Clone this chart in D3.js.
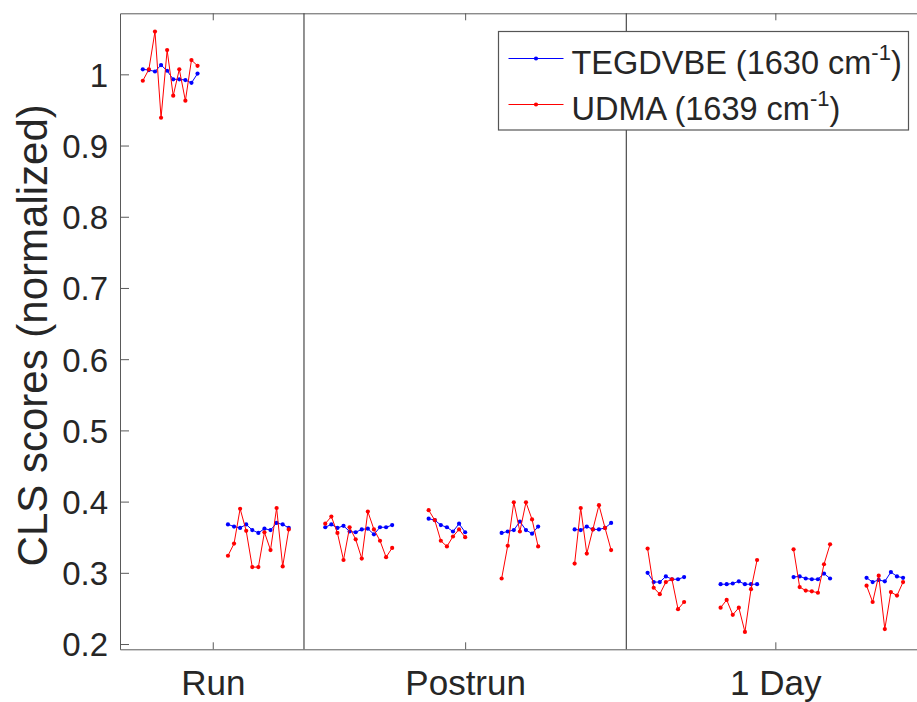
<!DOCTYPE html>
<html>
<head>
<meta charset="utf-8">
<script src="https://cdn.jsdelivr.net/npm/d3@7"></script>
<style>
  body { margin: 0; background: #fff; }
  text { font-family: "Liberation Sans", Arial, Helvetica, sans-serif; fill: #262626; }
</style>
</head>
<body>
<script>
const width = 917;
const height = 702;

const blueColor = "#0000ff"
const redColor = "#ff0000"

// x axis categories and where their labels sit (in point-index units)
const categories = ["Run", "Postrun", "1 Day"];
const categoryTicks = [11.5, 53, 104];
const separators = [26.5, 79.5];
const yTicks = [0.2, 0.3, 0.4, 0.5, 0.6, 0.7, 0.8, 0.9, 1];

// first index of every measurement group
const groupStarts = [0, 14, 30, 47, 59, 71, 83, 95, 107, 119];

const tegdvbe = [
  [1.007, 1.006, 1.004, 1.013, 1.005, 0.993, 0.993, 0.992, 0.988, 1.001],
  [0.368, 0.365, 0.363, 0.368, 0.360, 0.356, 0.362, 0.360, 0.370, 0.368, 0.363],
  [0.364, 0.368, 0.363, 0.366, 0.358, 0.357, 0.361, 0.362, 0.354, 0.364, 0.364, 0.367],
  [0.376, 0.374, 0.367, 0.364, 0.358, 0.369, 0.357],
  [0.356, 0.358, 0.360, 0.372, 0.360, 0.355, 0.365],
  [0.361, 0.360, 0.365, 0.361, 0.361, 0.363, 0.370],
  [0.300, 0.287, 0.287, 0.295, 0.291, 0.291, 0.294],
  [0.284, 0.284, 0.285, 0.288, 0.284, 0.284, 0.284],
  [0.294, 0.295, 0.292, 0.291, 0.291, 0.299, 0.292],
  [0.293, 0.287, 0.290, 0.288, 0.301, 0.295, 0.293]
];

const udma = [
  [0.991, 1.007, 1.060, 0.939, 1.034, 0.970, 1.007, 0.963, 1.020, 1.012],
  [0.324, 0.341, 0.390, 0.359, 0.308, 0.308, 0.357, 0.332, 0.391, 0.309, 0.361],
  [0.369, 0.379, 0.356, 0.318, 0.364, 0.347, 0.320, 0.386, 0.361, 0.345, 0.322, 0.335],
  [0.388, 0.374, 0.345, 0.337, 0.351, 0.361, 0.350],
  [0.292, 0.338, 0.399, 0.358, 0.399, 0.375, 0.337],
  [0.313, 0.391, 0.327, 0.361, 0.395, 0.363, 0.332],
  [0.334, 0.279, 0.270, 0.287, 0.291, 0.249, 0.259],
  [0.251, 0.262, 0.241, 0.251, 0.217, 0.277, 0.318],
  [0.333, 0.280, 0.275, 0.274, 0.272, 0.312, 0.340],
  [0.282, 0.259, 0.296, 0.221, 0.273, 0.268, 0.287]
];

const legendItems = [
  { name: "TEGDVBE (1630 cm", color: blueColor },
  { name: "UDMA (1639 cm", color: redColor }
];

const plot = { left: 120, right: 921.3, top: 13.3, bottom: 649.3 };

const scale = {
  x: d3.scaleLinear().domain([-3.75, 128]).range([plot.left, plot.right]),
  y: d3.scaleLinear().domain([0.1926, 1.0857]).range([plot.bottom, plot.top])
}

const svg = d3.select("body")
  .append("svg")
  .attr("width", width)
  .attr("height", height);

appendAxes(svg)
appendSeparators(svg)
drawSeries(svg, tegdvbe, blueColor)
drawSeries(svg, udma, redColor)
appendLegend(svg)
appendLabels(svg)

function appendAxes(svg) {
  const axisColor = "#5a5a5a";

  // left axis, ticks pointing inward
  const left = svg.append("g")
    .attr("transform", `translate(${plot.left},0)`)
    .call(d3.axisLeft(scale.y)
      .tickValues(yTicks)
      .tickFormat(d3.format("~g"))
      .tickSizeInner(-9)
      .tickSizeOuter(0)
      .tickPadding(12));
  left.selectAll("text").style("font-size", "33px").attr("dy", "0.36em");

  // bottom axis with the group names
  const bottom = svg.append("g")
    .attr("transform", `translate(0,${plot.bottom})`)
    .call(d3.axisBottom(scale.x)
      .tickValues(categoryTicks)
      .tickFormat((d, i) => categories[i])
      .tickSizeInner(-7)
      .tickSizeOuter(0)
      .tickPadding(46));
  bottom.selectAll("text").style("font-size", "35px").attr("dy", 0);

  // top box edge
  svg.append("g")
    .attr("transform", `translate(0,${plot.top})`)
    .call(d3.axisTop(scale.x)
      .tickValues(categoryTicks)
      .tickFormat("")
      .tickSizeInner(-7)
      .tickSizeOuter(0));

  svg.selectAll(".domain, .tick line")
    .attr("stroke", axisColor);
}

function appendSeparators(svg) {
  svg.selectAll(".separator")
    .data(separators)
    .enter()
    .append("line")
    .attr("class", "separator")
    .attr("x1", d => scale.x(d))
    .attr("x2", d => scale.x(d))
    .attr("y1", plot.top)
    .attr("y2", plot.bottom)
    .attr("stroke", "#4a4a4a")
    .attr("stroke-width", 1.2);
}

function drawSeries(svg, groups, color) {
  const line = d3.line()
    .x(d => scale.x(d.x))
    .y(d => scale.y(d.y));

  groups.forEach(function(values, g) {
    const pts = values.map((v, i) => ({ x: groupStarts[g] + i, y: v }));

    svg.append("path")
      .datum(pts)
      .attr("fill", "none")
      .attr("stroke", color)
      .attr("stroke-width", 1)
      .attr("d", line);

    svg.append("g")
      .selectAll("circle")
      .data(pts)
      .enter()
      .append("circle")
      .attr("cx", d => scale.x(d.x))
      .attr("cy", d => scale.y(d.y))
      .attr("r", 2.1)
      .attr("fill", color);
  });
}

function appendLegend(svg) {
  const legend = svg.append("g")
    .attr("transform", "translate(498.5, 31.5)");

  legend.append("rect")
    .attr("width", 410)
    .attr("height", 98.5)
    .attr("fill", "#fff")
    .attr("stroke", "#555")
    .attr("stroke-width", 1.2);

  const items = legend.selectAll(".item")
    .data(legendItems)
    .enter()
    .append("g")
    .attr("class", "item")
    .attr("transform", (d, i) => `translate(0, ${27 + i * 46})`);

  items.append("line")
    .attr("x1", 10)
    .attr("x2", 65)
    .attr("stroke", d => d.color)
    .attr("stroke-width", 1);

  items.append("circle")
    .attr("cx", 37.5)
    .attr("r", 2.1)
    .attr("fill", d => d.color);

  const label = items.append("text")
    .attr("x", 73)
    .attr("y", 15.5)
    .style("font-size", "32.5px");

  label.append("tspan").text(d => d.name);
  label.append("tspan")
    .attr("dy", -14)
    .style("font-size", "22px")
    .text("-1");
  label.append("tspan")
    .attr("dy", 14)
    .text(")");
}

function appendLabels(svg) {
  // Y label
  svg.append("text")
    .attr("text-anchor", "middle")
    .attr("transform", `translate(47, ${(plot.top + plot.bottom) / 2 + 4}) rotate(-90)`)
    .style("font-size", "42px")
    .text("CLS scores (normalized)");
}
</script>
</body>
</html>
